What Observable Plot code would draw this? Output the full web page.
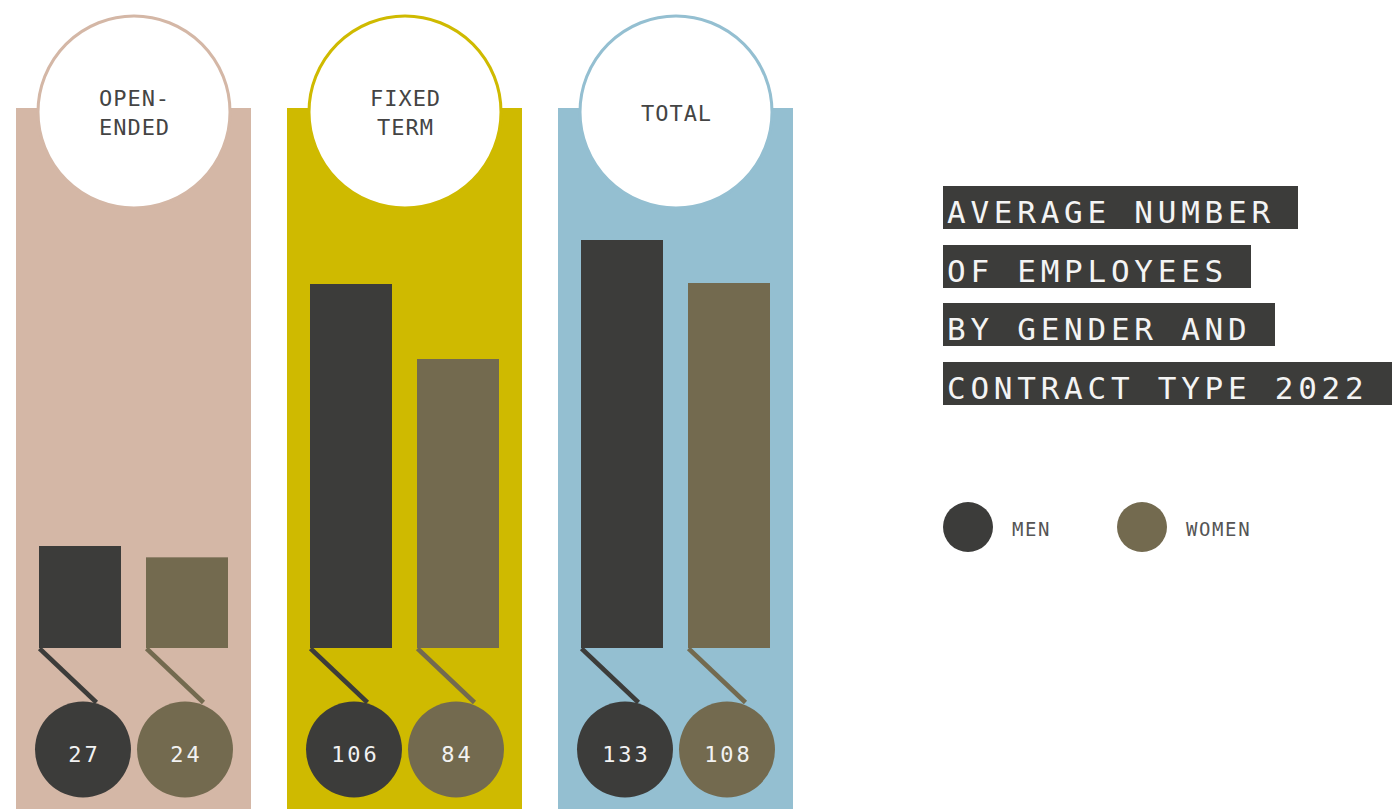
<!DOCTYPE html>
<html>
<head>
<meta charset="utf-8">
<script src="https://cdn.jsdelivr.net/npm/d3@7"></script>
<script src="https://cdn.jsdelivr.net/npm/@observablehq/plot@0.6"></script>
<style>
  html, body { margin: 0; padding: 0; background: #fff; width: 1392px; height: 809px; overflow: hidden; }
  #chart { position: absolute; left: 16px; top: 0; }
  #title { position: absolute; left: 943px; top: 186px; font-family: "DejaVu Sans Mono", monospace; font-size: 31px; letter-spacing: 4.75px; color: #f4f4f4; white-space: pre; }
  #title .line { position: absolute; left: 0; }
  #title .line span { display: inline-block; background: #3c3c3a; padding: 10px 0 0 4px; line-height: 33px; height: 33px; }
  .legend-dot { position: absolute; width: 50px; height: 50px; border-radius: 50%; }
  .legend-label { position: absolute; font-family: "DejaVu Sans Mono", monospace; font-size: 19px; line-height: 19px; letter-spacing: 1.6px; color: #555; }
</style>
</head>
<body>
<div id="chart"></div>
<div id="title"></div>
<div id="legend"></div>
<script>
// ---- data ----
const contractTypes = ["Open-ended", "Fixed term", "Total"];
const contractLabels = ["OPEN-\nENDED", "FIXED\nTERM", "TOTAL"];
const panelColors = ["#d4b7a6", "#cfba00", "#94bfd1"];
const genders = ["Men", "Women"];
const genderLabels = ["MEN", "WOMEN"];
const genderColors = ["#3c3c3a", "#736a4f"];
const menValues = [27, 106, 133];
const womenValues = [24, 84, 108];
const titleLines = ["AVERAGE NUMBER", "OF EMPLOYEES", "BY GENDER AND", "CONTRACT TYPE 2022"];

const rows = contractTypes.flatMap((type, i) => genders.map((gender, j) => ({
  type,
  label: contractLabels[i],
  panelColor: panelColors[i],
  gender,
  genderColor: genderColors[j],
  value: (j === 0 ? menValues : womenValues)[i]
})));

const font = "DejaVu Sans Mono";
const isFirst = d => d.gender === genders[0];

// a diagonal stroke used as a dot symbol (the connector from bar to value disc)
const diagonal = {
  draw(ctx, size) {
    const s = Math.sqrt(size / Math.PI);
    ctx.moveTo(0, 0);
    ctx.lineTo(s * 1.055, s);
  }
};

const valueMarks = genders.flatMap((g, j) => [
  Plot.dot(rows, {filter: d => d.gender === g, x: "gender", frameAnchor: "bottom", dy: -60, dx: j === 0 ? 2.5 : -2.5, r: 48, fill: "genderColor"}),
  Plot.text(rows, {filter: d => d.gender === g, x: "gender", text: "value", frameAnchor: "bottom", lineAnchor: "middle", dy: -55, dx: (j === 0 ? 2.5 : -2.5) + 1.5, fill: "#f2f2f2", fontSize: 22, fontFamily: font})
]);

const svg = Plot.plot({
  width: 777,
  height: 809,
  marginTop: 0, marginRight: 0, marginBottom: 0, marginLeft: 0,
  style: {background: "transparent", overflow: "visible"},
  facet: {data: rows, x: "type"},
  fx: {domain: contractTypes, paddingInner: 36 / 271, paddingOuter: 0, axis: null, label: null},
  x: {domain: genders, paddingInner: 25 / 107, paddingOuter: 23 / 107, axis: null, label: null},
  y: {type: "linear", domain: [0, 27, 84, 106, 108, 133], range: [648, 546, 359, 284, 283, 240], axis: null, label: null},
  color: {type: "identity"},
  marks: [
    Plot.rect(rows, {filter: isFirst, fill: "panelColor", insetTop: 108}),
    Plot.dot(rows, {filter: isFirst, frameAnchor: "top", dy: 111.5, r: 96, fill: "white", stroke: "panelColor", strokeWidth: 3}),
    Plot.text(rows, {filter: isFirst, text: "label", frameAnchor: "top", lineAnchor: "middle", dy: 111, dx: 0.5, fontSize: 22, fontFamily: font, fill: "#444", lineHeight: 1.32}),
    Plot.barY(rows, {x: "gender", y: "value", fill: "genderColor"}),
    Plot.dot(rows, {x: "gender", y: () => 0, dx: -41, r: 54, symbol: diagonal, fill: "none", stroke: "genderColor", strokeWidth: 4.5}),
    ...valueMarks
  ]
});
svg.querySelectorAll("text").forEach(t => {
  t.style.letterSpacing = /^\d+$/.test(t.textContent.trim()) ? "3px" : "1px";
});
document.getElementById("chart").appendChild(svg);

// ---- title ----
const title = d3.select("#title");
titleLines.forEach((line, i) => {
  title.append("div").attr("class", "line").style("top", `${i * 58.7}px`)
    .append("span").text(line + " ");
});

// ---- legend ----
const legend = d3.select("#legend");
const legendX = [943, 1117];
genderLabels.forEach((lab, j) => {
  legend.append("div").attr("class", "legend-dot")
    .style("left", `${legendX[j]}px`).style("top", "502px").style("background", genderColors[j]);
  legend.append("div").attr("class", "legend-label")
    .style("left", `${legendX[j] + 69}px`).style("top", "519.5px").text(lab);
});
</script>
</body>
</html>
